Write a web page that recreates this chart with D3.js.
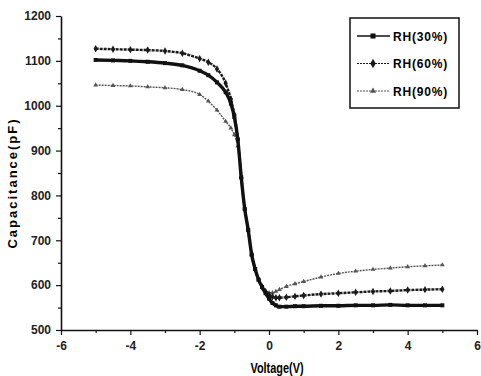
<!DOCTYPE html>
<html>
<head>
<meta charset="utf-8">
<script src="https://cdn.jsdelivr.net/npm/d3@7"></script>
<style>
  body { margin: 0; background: #fff; }
  svg { display: block; }
</style>
</head>
<body>
<svg id="chart" width="481" height="376"></svg>
<script>
// voltages (V) shared by all three sweeps
var voltage = [-5, -4.5, -4, -3.5, -3, -2.5, -2, -1.75, -1.5, -1.25, -1.1, -1, -0.9, -0.8, -0.7, -0.6,
  -0.5, -0.4, -0.3, -0.2, -0.1, 0, 0.1, 0.2, 0.3, 0.5, 0.75, 1, 1.5, 2, 2.5, 3, 3.5, 4, 4.5, 5];

// capacitance (pF)
var rh30 = [1102, 1101, 1100, 1098, 1095, 1090, 1078, 1068, 1052, 1030, 1005, 975, 925, 840, 770, 723,
  668, 636, 612, 596, 582, 570, 560, 555, 552, 552, 553, 553, 554, 554, 555, 555, 556, 555, 555, 555];
var rh60 = [1127, 1126, 1125, 1124, 1122, 1117, 1105, 1097, 1082, 1050, 1015, 980, 925, 840, 770, 723,
  668, 636, 612, 596, 585, 578, 574, 572, 572, 573, 575, 577, 580, 582, 584, 586, 587, 589, 590, 591];
var rh90 = [1046, 1045, 1044, 1042, 1040, 1036, 1025, 1010, 990, 965, 950, 935, 910, 840, 770, 723,
  668, 636, 612, 596, 588, 583, 583, 586, 590, 597, 603, 608, 618, 626, 631, 635, 638, 641, 643, 645];

var seriesNames = ["RH(30%)", "RH(60%)", "RH(90%)"];
var xTicks = [-6, -4, -2, 0, 2, 4, 6];
var yTicks = [500, 600, 700, 800, 900, 1000, 1100, 1200];

var svg = d3.select("#chart");
var font = "'Liberation Sans', Arial, sans-serif";

var x = d3.scaleLinear().domain([-6, 6]).range([61, 477]);
var y = d3.scaleLinear().domain([500, 1200]).range([330, 16]);

// minor ticks first so major ones draw on top
var minorX = d3.range(-5, 6, 2);
var minorY = d3.range(550, 1200, 100);

var g = svg.append("g");

g.append("g")
  .attr("transform", "translate(0,330)")
  .call(d3.axisBottom(x).tickValues(minorX).tickSize(3).tickFormat(""))
  .call(a => a.select(".domain").remove());
g.append("g")
  .attr("transform", "translate(61,0)")
  .call(d3.axisLeft(y).tickValues(minorY).tickSize(3).tickFormat(""))
  .call(a => a.select(".domain").remove());

var xAxis = g.append("g")
  .attr("transform", "translate(0,330)")
  .call(d3.axisBottom(x).tickValues(xTicks).tickSize(5).tickPadding(6).tickSizeOuter(0)
    .tickFormat(d => d < 0 ? "-" + Math.abs(d) : d));
var yAxis = g.append("g")
  .attr("transform", "translate(61,0)")
  .call(d3.axisLeft(y).tickValues(yTicks).tickSize(5).tickPadding(5).tickSizeOuter(0)
    .tickFormat(d3.format("d")));

[xAxis, yAxis].forEach(a => {
  a.selectAll(".domain").attr("stroke", "#111").attr("stroke-width", 1.6);
  a.selectAll("text")
    .attr("font-family", font)
    .attr("font-size", 12)
    .attr("font-weight", "bold")
    .attr("fill", "#222");
});
g.selectAll(".tick line").attr("stroke", "#111").attr("stroke-width", 1.2);

// axis titles
svg.append("text")
  .attr("transform", "translate(277,373) scale(0.78,1)")
  .attr("text-anchor", "middle")
  .attr("font-family", font).attr("font-weight", "bold").attr("font-size", 14)
  .text("Voltage(V)");
svg.append("text")
  .attr("transform", "translate(17,183) rotate(-90)")
  .attr("text-anchor", "middle")
  .attr("font-family", font).attr("font-weight", "bold").attr("font-size", 13)
  .attr("letter-spacing", 2)
  .text("Capacitance(pF)");

var series = [
  { name: seriesNames[0], values: rh30, color: "#111", width: 3.4, symbol: d3.symbolSquare, size: 16, dash: null },
  { name: seriesNames[1], values: rh60, color: "#1a1a1a", width: 2.4, symbol: d3.symbolDiamond, size: 16, dash: "3,1" },
  { name: seriesNames[2], values: rh90, color: "#555", width: 1.4, symbol: d3.symbolTriangle, size: 10, dash: "2,1" }
];

var line = d3.line()
  .x((d, i) => x(voltage[i]))
  .y(d => y(d))
  .curve(d3.curveMonotoneX);

series.slice().reverse().forEach(s => {
  g.append("path")
    .datum(s.values)
    .attr("fill", "none")
    .attr("stroke", s.color)
    .attr("stroke-width", s.width)
    .attr("stroke-dasharray", s.dash)
    .attr("d", line);
  g.selectAll(null)
    .data(s.values)
    .join("path")
    .attr("transform", (d, i) => `translate(${x(voltage[i])},${y(d)})`)
    .attr("d", d3.symbol().type(s.symbol).size(s.size))
    .attr("fill", s.color);
});

// legend
var legend = svg.append("g").attr("transform", "translate(350,18)");
legend.append("rect")
  .attr("width", 109).attr("height", 90)
  .attr("fill", "#fff").attr("stroke", "#111").attr("stroke-width", 1.5);
series.forEach((s, i) => {
  var row = legend.append("g").attr("transform", `translate(0,${18 + i * 27.5})`);
  row.append("line")
    .attr("x1", 7).attr("x2", 40)
    .attr("stroke", s.color).attr("stroke-width", i == 0 ? 1.5 : 1)
    .attr("stroke-dasharray", i == 0 ? null : "2,1");
  row.append("path")
    .attr("transform", "translate(23,0)")
    .attr("d", d3.symbol().type(s.symbol).size(s.size * 1.6))
    .attr("fill", s.color);
  row.append("text")
    .attr("x", 43).attr("y", 4.5)
    .attr("font-family", font).attr("font-weight", "bold").attr("font-size", 12)
    .attr("letter-spacing", 0.8)
    .text(s.name);
});
</script>
</body>
</html>
